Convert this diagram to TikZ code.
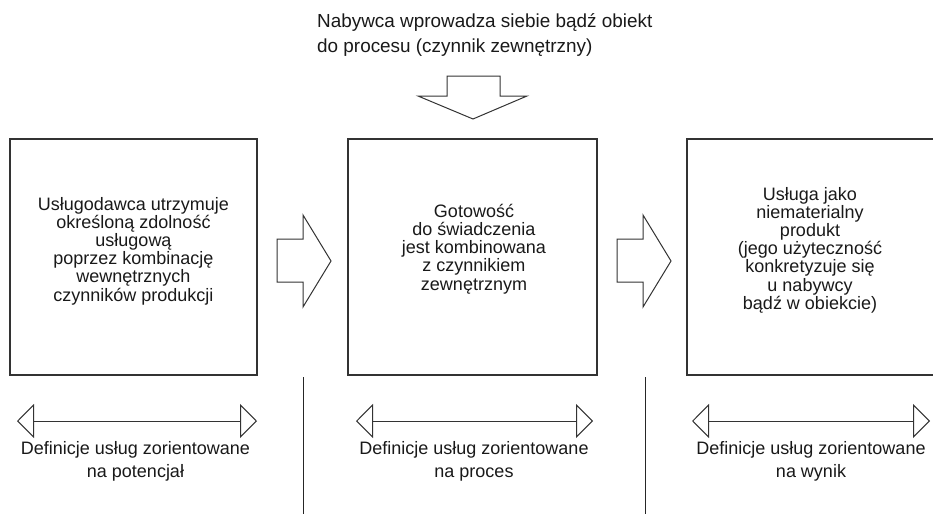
\documentclass[tikz,border=0pt]{standalone}
\usepackage{fontspec}
\setmainfont{Liberation Sans}
\usetikzlibrary{arrows.meta}
\begin{document}
\begin{tikzpicture}[x=1pt,y=-1pt,
  ink/.style={draw=black!80, line width=1.1pt},
  box/.style={ink, minimum height=236pt, inner sep=0pt},
  boxtext/.style={align=center, inner sep=0pt, text=black!90,
    font=\fontsize{18}{18.2}\selectfont},
  blockarrow/.style={draw=black!80, line width=1pt, line join=miter, fill=white},
  span/.style={draw=black!80, line width=1pt,
    {Triangle[open,length=17pt,width=34pt]}-{Triangle[open,length=17pt,width=34pt]}},
  caption/.style={align=center, inner sep=0pt, text=black!90,
    font=\fontsize{18}{23}\selectfont},
  divider/.style={draw=black!85, line width=1pt}]
\useasboundingbox (0,0) rectangle (933,514);

% three stages
\node[box, minimum width=247pt] (potential) at (133.5,257) {};
\node[box, minimum width=249pt] (process) at (472.5,257) {};
\node[box, minimum width=247pt] (result) at (810.5,257) {};

\node[boxtext] (potentialtext) at (133.5,251)
  {Usługodawca utrzymuje\\określoną zdolność\\usługową\\poprzez kombinację\\wewnętrznych\\czynników produkcji};
\node[boxtext] (processtext) at (474,249)
  {Gotowość\\do świadczenia\\jest kombinowana\\z czynnikiem\\zewnętrznym};
\node[boxtext] (resulttext) at (810,250)
  {Usługa jako\\niematerialny\\produkt\\(jego użyteczność\\konkretyzuje się\\u nabywcy\\bądź w obiekcie)};

% external factor entering from above
\node[align=left, anchor=west, inner sep=0pt, text=black!90,
  font=\fontsize{18.9}{25}\selectfont] (buyer) at (317,35)
  {Nabywca wprowadza siebie bądź obiekt\\do procesu (czynnik zewnętrzny)};
\draw[blockarrow] (447,76) -- (500,76) -- (500,96) -- (527,96) -- (473,119)
  -- (418,96) -- (447,96) -- cycle;

% block arrows between the stages
\draw[blockarrow] (277,239) -- (303,239) -- (303,215) -- (331,261) -- (303,307)
  -- (303,282) -- (277,282) -- cycle;
\draw[blockarrow] (617,239) -- (643,239) -- (643,215) -- (671,261) -- (643,307)
  -- (643,282) -- (617,282) -- cycle;

% dividers between the definition groups
\coordinate (d1top) at (303,377);
\coordinate (d1bot) at (303,514);
\coordinate (d2top) at (645,377);
\coordinate (d2bot) at (645,514);
\draw[divider] (d1top) -- (d1bot);
\draw[divider] (d2top) -- (d2bot);

% ranges of the definitions
\coordinate (s1l) at (17,421);   \coordinate (s1r) at (257,421);
\coordinate (s2l) at (356,421);  \coordinate (s2r) at (593,421);
\coordinate (s3l) at (692,421);  \coordinate (s3r) at (930,421);
\draw[span] (s1l) -- (s1r);
\draw[span] (s2l) -- (s2r);
\draw[span] (s3l) -- (s3r);

\node[caption] (cap1) at (135.5,461)
  {Definicje usług zorientowane\\na potencjał};
\node[caption] (cap2) at (474,461)
  {Definicje usług zorientowane\\na proces};
\node[caption] (cap3) at (811,461)
  {Definicje usług zorientowane\\na wynik};
\end{tikzpicture}
\end{document}
